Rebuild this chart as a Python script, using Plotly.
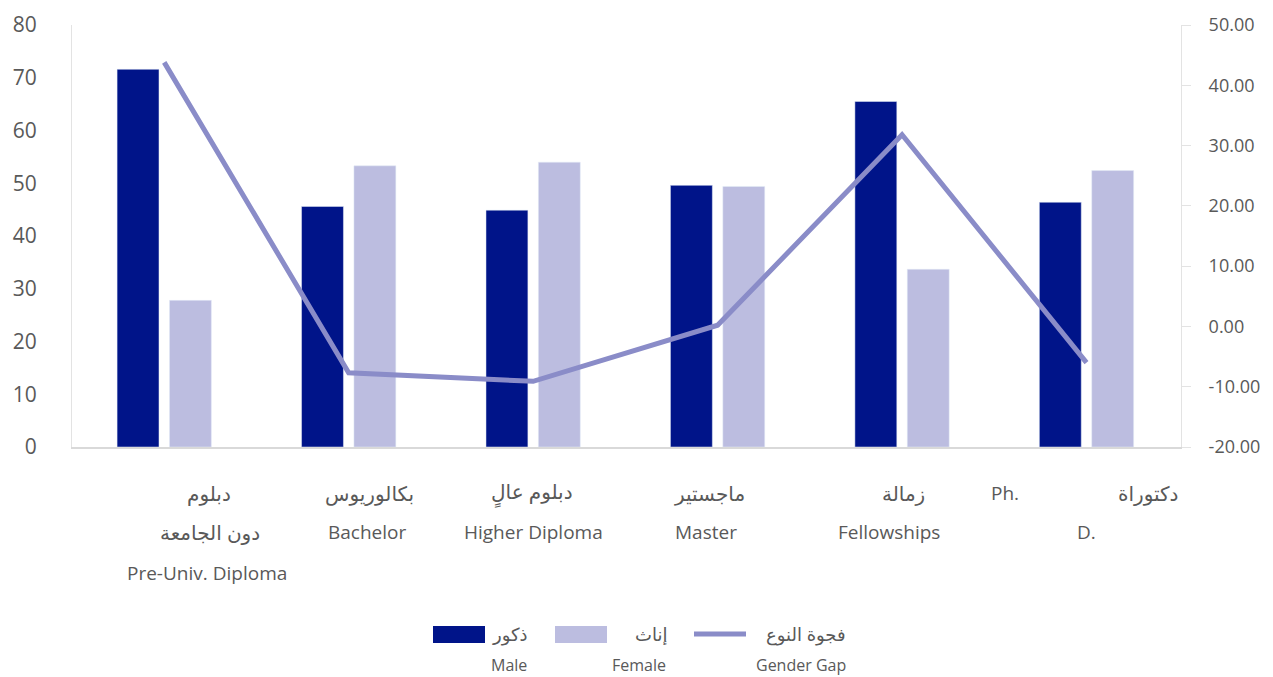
import plotly.graph_objects as go

categories = ["Pre-Univ. Diploma", "Bachelor", "Higher Diploma", "Master", "Fellowships", "Ph.D."]
male = [71.6, 45.6, 44.9, 49.6, 65.5, 46.4]
female = [27.8, 53.3, 54.0, 49.4, 33.7, 52.4]
gap = [43.8, -7.7, -9.1, 0.2, 31.8, -6.0]

y2_ticks = [-20, -10, 0, 10, 20, 30, 40, 50]
y2_ticktext = ["-20.00", "-10.00", "0.00", "10.00", "20.00", "30.00", "40.00", "50.00"]

# label lines per category: (text, category index, line index, x shift, is_arabic)
label_lines = [
    ("دبلوم", 0, 0, 45, True), ("دون الجامعة", 0, 1, 46, True), ("Pre-Univ. Diploma", 0, 2, 43, False),
    ("بكالوريوس", 1, 0, 21, True), ("Bachelor", 1, 1, 18, False),
    ("دبلوم عالٍ", 2, 0, -1, True), ("Higher Diploma", 2, 1, 0, False),
    ("ماجستير", 3, 0, -8, True), ("Master", 3, 1, -12, False),
    ("زمالة", 4, 0, 1, True), ("Fellowships", 4, 1, -13, False),
    ("Ph.", 5, 0, -82, False), ("دكتوراة", 5, 0, 62, True), ("D.", 5, 1, 0, False),
]

legend_ar = ["ذكور", "إناث", "فجوة النوع"]
legend_en = ["Male", "Female", "Gender Gap"]

C_MALE = "#001489"
C_FEMALE = "#bcbde0"
C_GAP = "#8a8cc8"
GREY = "#595959"
FONT = "Open Sans, Noto Sans, DejaVu Sans, sans-serif"

OFF = 8  # default page body margin
W, H = 1273 - OFF, 677 - OFF
L, T = 72 - OFF, 25 - OFF
PW, PH = 1109, 422
R, B = W - L - PW, H - T - PH


def px(x):
    return (x - OFF - L) / PW


def py(y):
    return (T + OFF + PH - y) / PH


fig = go.Figure()
fig.add_trace(go.Bar(x=categories, y=male, name="ذكور", marker_color=C_MALE,
                     showlegend=False))
fig.add_trace(go.Bar(x=categories, y=female, name="إناث", marker_color=C_FEMALE,
                     showlegend=False))
fig.add_trace(go.Scatter(x=categories, y=gap, yaxis="y2", mode="lines", name="فجوة النوع",
                         line=dict(color=C_GAP, width=5), showlegend=False))

annotations = []
line_y = [-46, -85, -126]
for text, ci, li, xs, ar in label_lines:
    annotations.append(dict(x=categories[ci], xref="x", y=0, yref="paper",
                            yshift=line_y[li], xshift=xs, text=text, showarrow=False,
                            xanchor="center", yanchor="middle",
                            font=dict(size=20 if ar else 19, color=GREY, family=FONT)))

# legend
ar_right = [530, 669, 848]
en_right = [529, 668, 848]
for i in range(3):
    annotations.append(dict(x=px(ar_right[i]), xref="paper", y=py(634), yref="paper",
                            text=legend_ar[i], showarrow=False, xanchor="right",
                            yanchor="middle", font=dict(size=18, color=GREY, family=FONT)))
    annotations.append(dict(x=px(en_right[i]), xref="paper", y=py(665), yref="paper",
                            text=legend_en[i], showarrow=False, xanchor="right",
                            yanchor="middle", font=dict(size=16, color=GREY, family=FONT)))

shapes = [
    dict(type="rect", xref="paper", yref="paper", x0=px(433), x1=px(485), y0=py(643), y1=py(626),
         fillcolor=C_MALE, line=dict(width=0)),
    dict(type="rect", xref="paper", yref="paper", x0=px(555), x1=px(607), y0=py(643), y1=py(626),
         fillcolor=C_FEMALE, line=dict(width=0)),
    dict(type="line", xref="paper", yref="paper", x0=px(694), x1=px(746), y0=py(634), y1=py(634),
         line=dict(color=C_GAP, width=5)),
]

fig.update_layout(
    width=W, height=H,
    margin=dict(l=L, r=R, t=T, b=B, autoexpand=False),
    paper_bgcolor="white", plot_bgcolor="white",
    barmode="group", bargap=0.432, bargroupgap=0.2,
    font=dict(family=FONT, color=GREY),
    xaxis=dict(showticklabels=False, ticks="", showgrid=False, showline=True,
               linecolor="#d9d9d9", linewidth=2, zeroline=False),
    yaxis=dict(range=[0, 80], dtick=10, showgrid=False, zeroline=False, showline=True,
               linecolor="#e3e3e3", linewidth=1, ticks="",
               tickfont=dict(size=21, color=GREY, family=FONT), ticklabelstandoff=30),
    yaxis2=dict(range=[-20, 50], tickvals=y2_ticks, ticktext=y2_ticktext,
                overlaying="y", side="right",
                showgrid=False, zeroline=False, showline=True, linecolor="#e3e3e3",
                linewidth=1, ticks="outside", ticklen=9, tickcolor="#e3e3e3",
                tickfont=dict(size=18, color=GREY, family=FONT), ticklabelstandoff=14),
    annotations=annotations,
    shapes=shapes,
)

fig.write_html("out.html")
